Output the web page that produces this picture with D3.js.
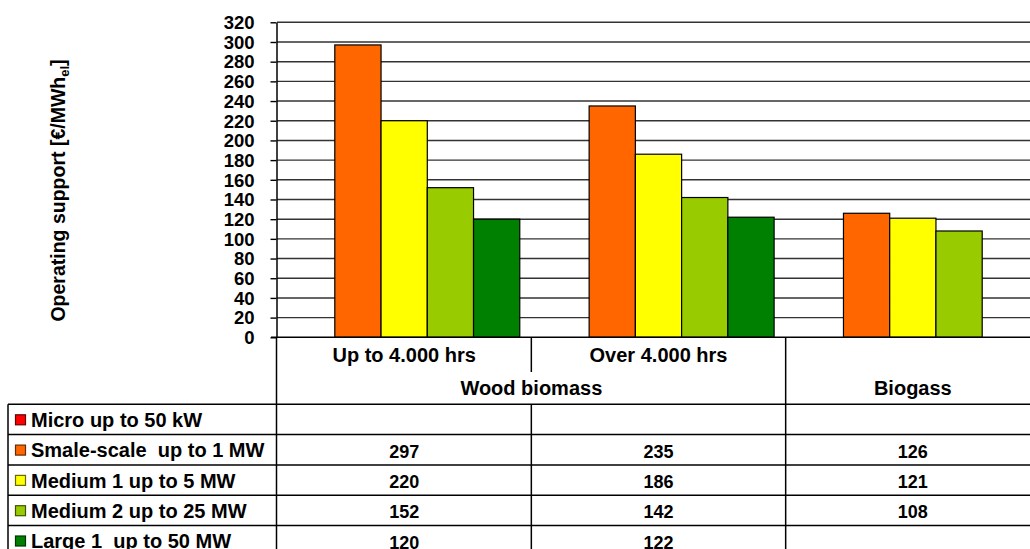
<!DOCTYPE html>
<html>
<head>
<meta charset="utf-8">
<script src="https://cdn.jsdelivr.net/npm/d3@7"></script>
<style>
  html, body { margin: 0; padding: 0; background: #fff; }
  svg { display: block; font-family: "Liberation Sans", Arial, sans-serif; font-weight: bold; }
  text { white-space: pre; }
</style>
</head>
<body>
<svg id="chart" width="1030" height="549"></svg>
<script>
// ---- data ----
const categories = ["Up to 4.000 hrs", "Over 4.000 hrs", ""];
const groupLabels = ["Wood biomass", "Biogass"];
const groupSpans = [[0, 1], [2, 2]];
const seriesNames = ["Micro up to 50 kW", "Smale-scale  up to 1 MW", "Medium 1 up to 5 MW", "Medium 2 up to 25 MW", "Large 1  up to 50 MW"];
const seriesColors = ["#ff0000", "#ff6600", "#ffff00", "#99cc00", "#008000"];
const microValues   = [null, null, null];
const smaleValues   = [297, 235, 126];
const medium1Values = [220, 186, 121];
const medium2Values = [152, 142, 108];
const large1Values  = [120, 122, null];
const yTicks = [0, 20, 40, 60, 80, 100, 120, 140, 160, 180, 200, 220, 240, 260, 280, 300, 320];
const yTitle = "Operating support [€/MWh";
const yTitleSub = "el";

const seriesValues = [microValues, smaleValues, medium1Values, medium2Values, large1Values];

// ---- layout ----
const svg = d3.select("#chart");
const plotLeft = 277, plotRight = 1040, plotTop = 22.3, plotBottom = 337.3;
const tableLeft = 8, tableRight = 1040;
const headRow1Bottom = 372, tableTop = 404.3, rowH = 30.3;
const FONT = "Liberation Sans, Arial, sans-serif";

const x = d3.scaleBand().domain(d3.range(categories.length)).range([plotLeft, plotRight]).padding(0);
const xs = d3.scaleBand().domain(d3.range(seriesNames.length)).range([0, x.bandwidth()]).paddingInner(0).paddingOuter(0.25);
const y = d3.scaleLinear().domain([0, 320]).range([plotBottom, plotTop]);

// gridlines
svg.append("g")
  .selectAll("line").data(yTicks.filter(d => d > 0)).join("line")
  .attr("x1", plotLeft).attr("x2", plotRight)
  .attr("y1", d => y(d)).attr("y2", d => y(d))
  .attr("stroke", "#333").attr("stroke-width", 1.4);

// bars
const bars = [];
seriesValues.forEach((vals, si) => vals.forEach((v, ci) => { if (v != null) bars.push({si, ci, v}); }));
svg.append("g").selectAll("rect").data(bars).join("rect")
  .attr("x", d => x(d.ci) + xs(d.si))
  .attr("width", xs.bandwidth())
  .attr("y", d => y(d.v))
  .attr("height", d => y(0) - y(d.v))
  .attr("fill", d => seriesColors[d.si])
  .attr("stroke", "#000").attr("stroke-width", 1.2);

// y axis
const yAxis = d3.axisLeft(y).tickValues(yTicks).tickSize(6).tickSizeOuter(0).tickPadding(16);
const ga = svg.append("g").attr("transform", `translate(${plotLeft - 0.5},0)`).call(yAxis);
ga.select(".domain").attr("stroke", "#000").attr("stroke-width", 1.5);
ga.selectAll(".tick line").attr("stroke", "#000").attr("stroke-width", 1.4);
ga.selectAll(".tick text").attr("font-size", 18.5).attr("font-weight", "bold")
  .attr("font-family", FONT).attr("fill", "#000").attr("dy", "0.34em");

// baseline
svg.append("line").attr("x1", plotLeft - 6).attr("x2", plotRight)
  .attr("y1", y(0)).attr("y2", y(0)).attr("stroke", "#000").attr("stroke-width", 1.5);

// y title
const yt = svg.append("text")
  .attr("transform", `translate(65,190.5) rotate(-90)`)
  .attr("text-anchor", "middle").attr("font-size", 19.5).attr("fill", "#000");
yt.append("tspan").text(yTitle);
yt.append("tspan").attr("font-size", 13).attr("dy", 4).text(yTitleSub);
yt.append("tspan").attr("dy", -4).text("]");

// ---- table ----
const tableBottom = tableTop + rowH * seriesNames.length;
const tl = svg.append("g").attr("stroke", "#000").attr("stroke-width", 1.5);
d3.range(seriesNames.length + 1).forEach(i => {
  tl.append("line").attr("x1", tableLeft).attr("x2", tableRight)
    .attr("y1", tableTop + i * rowH).attr("y2", tableTop + i * rowH);
});
tl.append("line").attr("x1", tableLeft).attr("x2", tableLeft).attr("y1", tableTop).attr("y2", tableBottom);
tl.append("line").attr("x1", plotLeft - 0.5).attr("x2", plotLeft - 0.5).attr("y1", y(0)).attr("y2", tableBottom);
d3.range(1, categories.length).forEach(ci => {
  const gx = x(ci);
  const isGroupEdge = groupSpans.some(s => s[0] === ci);
  if (isGroupEdge) {
    tl.append("line").attr("x1", gx).attr("x2", gx).attr("y1", y(0)).attr("y2", tableBottom);
  } else {
    tl.append("line").attr("x1", gx).attr("x2", gx).attr("y1", y(0)).attr("y2", headRow1Bottom);
    tl.append("line").attr("x1", gx).attr("x2", gx).attr("y1", tableTop).attr("y2", tableBottom);
  }
});

// header texts
svg.append("g").selectAll("text").data(categories).join("text")
  .attr("x", (d, i) => x(i) + x.bandwidth() / 2).attr("y", 361.7)
  .attr("text-anchor", "middle").attr("font-size", 20).attr("fill", "#000").text(d => d);
svg.append("g").selectAll("text").data(groupLabels).join("text")
  .attr("x", (d, i) => (x(groupSpans[i][0]) + x(groupSpans[i][1]) + x.bandwidth()) / 2).attr("y", 395)
  .attr("text-anchor", "middle").attr("font-size", 20).attr("fill", "#000").text(d => d);

// series rows
seriesNames.forEach((name, si) => {
  const ry = tableTop + si * rowH;
  svg.append("rect").attr("x", 15.5).attr("y", ry + 10.5).attr("width", 10).attr("height", 10)
    .attr("fill", seriesColors[si]).attr("stroke", d3.color(seriesColors[si]).darker(2.5)).attr("stroke-width", 1.2);
  svg.append("text").attr("x", 31).attr("y", ry + 22.7).attr("font-size", 20).attr("fill", "#000").text(name);
  seriesValues[si].forEach((v, ci) => {
    if (v == null) return;
    svg.append("text").attr("x", x(ci) + x.bandwidth() / 2).attr("y", ry + 23)
      .attr("text-anchor", "middle").attr("font-size", 18).attr("fill", "#000").text(v);
  });
});
</script>
</body>
</html>
